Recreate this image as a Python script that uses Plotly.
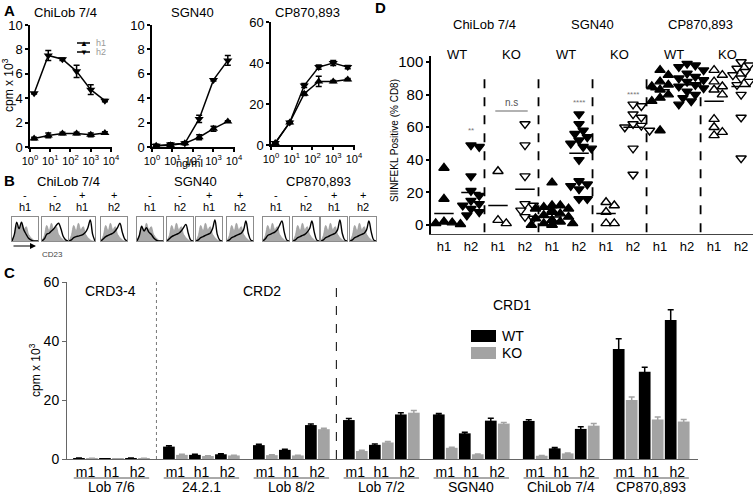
import plotly.graph_objects as go

W, H = 755, 495
def PX(x): return x / W
def PY(y): return 1 - y / H

FONT = "Liberation Sans, Arial, sans-serif"

# ---------------- Panel A data ----------------
conc = [1.6, 8, 40, 200, 1000, 5000]
a_titles = ["ChiLob 7/4", "SGN40", "CP870,893"]
chilob_h1 = [0.7, 0.95, 1.1, 1.1, 1.0, 1.15]
chilob_h1_err = [0.1, 0.2, 0.1, 0.1, 0.15, 0.1]
chilob_h2 = [4.4, 7.5, 7.2, 6.2, 4.7, 3.8]
chilob_h2_err = [0.05, 0.4, 0.1, 0.5, 0.4, 0.1]
sgn40_h1 = [0.1, 0.15, 0.3, 0.8, 1.5, 2.1]
sgn40_h1_err = [0.1, 0.1, 0.1, 0.2, 0.2, 0.05]
sgn40_h2 = [0.1, 0.2, 0.3, 2.3, 5.5, 7.1]
sgn40_h2_err = [0.1, 0.15, 0.1, 0.3, 0.1, 0.4]
cp_h1 = [1.0, 11, 25, 31, 31, 32]
cp_h1_err = [0.5, 0.5, 0.8, 2.5, 0.5, 0.5]
cp_h2 = [1.0, 11, 29, 38, 40, 38]
cp_h2_err = [0.5, 0.5, 1.0, 1.0, 1.2, 0.8]
a_xticks = [1, 10, 100, 1000, 10000]
a_xticktext = ["10<sup>0</sup>", "10<sup>1</sup>", "10<sup>2</sup>", "10<sup>3</sup>", "10<sup>4</sup>"]
a_legend = ["h1", "h2"]

# ---------------- Panel B data (flow histograms) ----------------
b_bins = list(range(12))
b_signs = ["-", "-", "+", "+"]
b_isos = ["h1", "h2", "h1", "h2"]
iso_control = [0, 0.25, 0.7, 0.45, 0.8, 0.5, 0.65, 0.3, 0.15, 0.05, 0, 0]
chilob_cd23 = [
    [0, 0.3, 0.85, 0.55, 0.85, 0.5, 0.3, 0.12, 0.05, 0, 0, 0],
    [0, 0.1, 0.3, 0.35, 0.45, 0.55, 0.7, 0.8, 0.55, 0.2, 0.05, 0],
    [0, 0.05, 0.15, 0.2, 0.22, 0.25, 0.3, 0.4, 0.6, 0.95, 0.3, 0],
    [0, 0.1, 0.2, 0.25, 0.3, 0.35, 0.45, 0.6, 0.8, 0.4, 0.1, 0],
]
sgn40_cd23 = [
    [0, 0.25, 0.65, 0.45, 0.6, 0.4, 0.3, 0.15, 0.05, 0, 0, 0],
    [0, 0.1, 0.2, 0.25, 0.3, 0.35, 0.45, 0.6, 0.75, 0.35, 0.05, 0],
    [0, 0.05, 0.15, 0.2, 0.25, 0.3, 0.35, 0.55, 0.95, 0.3, 0.05, 0],
    [0, 0.05, 0.15, 0.2, 0.25, 0.3, 0.35, 0.5, 0.9, 0.35, 0.05, 0],
]
cp_cd23 = [
    [0, 0.1, 0.25, 0.3, 0.35, 0.4, 0.5, 0.7, 0.9, 0.4, 0.05, 0],
    [0, 0.05, 0.15, 0.2, 0.25, 0.3, 0.4, 0.55, 0.9, 0.4, 0.05, 0],
    [0, 0.05, 0.15, 0.2, 0.25, 0.3, 0.35, 0.5, 0.95, 0.35, 0.05, 0],
    [0, 0.05, 0.15, 0.2, 0.25, 0.3, 0.35, 0.5, 0.9, 0.4, 0.05, 0],
]

# ---------------- Panel C data ----------------
c_groups = ["Lob 7/6", "24.2.1", "Lob 8/2", "Lob 7/2", "SGN40", "ChiLob 7/4", "CP870,893"]
c_isotypes = ["m1", "h1", "h2"]
c_wt = [0.3, 0.05, 0.3, 4.2, 1.4, 1.6, 4.7, 3.1, 11.5, 13.2, 4.8, 15.1,
        15.1, 8.7, 13.0, 12.9, 3.6, 10.2, 37.3, 29.6, 47.1]
c_wt_err = [0.05, 0.0, 0.05, 0.3, 0.2, 0.2, 0.3, 0.2, 0.4, 0.5, 0.3, 0.6,
            0.3, 0.4, 0.8, 0.4, 0.3, 0.7, 3.5, 1.5, 3.5]
c_ko = [0.2, 0.05, 0.2, 1.4, 1.0, 1.2, 1.3, 1.2, 10.1, 2.7, 5.6, 15.7,
        3.8, 1.6, 12.0, 1.1, 1.9, 11.3, 20.0, 13.4, 12.7]
c_ko_err = [0.05, 0.0, 0.05, 0.2, 0.1, 0.1, 0.1, 0.1, 0.3, 0.3, 0.3, 0.7,
            0.2, 0.1, 0.4, 0.1, 0.1, 0.7, 1.0, 0.8, 0.7]
c_domains = ["CRD3-4", "CRD2", "CRD1"]
c_legend = ["WT", "KO"]

# ---------------- Panel D data ----------------
d_antibodies = ["ChiLob 7/4", "SGN40", "CP870,893"]
d_hosts = ["WT", "KO"]
d_cols = ["h1", "h2"] * 6
d_chilob_wt_h1 = [35, 16, 1, 0.5, 1.5, 2]
d_chilob_wt_h2 = [48, 49, 30, 21, 18, 15, 13, 12, 10, 8, 6]
d_chilob_ko_h1 = [33, 1, 3]
d_chilob_ko_h2 = [62, 49, 30, 13, 12, 9, 4, 5]
d_sgn40_wt_h1 = [26, 12, 11, 10, 9, 8, 7, 6, 5, 4, 3, 3, 2, 1, 1, 0, 0, 0, 12, 10]
d_sgn40_wt_h2 = [68, 62, 58, 56, 54, 52, 50, 48, 47, 40, 27, 25, 24, 22, 16, 16]
d_sgn40_ko_h1 = [12, 14, 8, 1, 1]
d_sgn40_ko_h2 = [74, 73, 68, 66, 62, 61, 60, 58, 47, 31]
d_cp_wt_h1 = [95, 92, 88, 86, 85, 83, 80, 78, 76, 58]
d_cp_wt_h2 = [99, 98, 97, 95, 93, 91, 90, 89, 88, 86, 85, 84, 82, 80, 78, 76, 74]
d_cp_ko_h1 = [95, 92, 88, 85, 83, 80, 65, 60, 57, 55]
d_cp_ko_h2 = [100, 98, 96, 94, 92, 90, 88, 86, 80, 66, 41]
d_means = [7, 20, 12, 22, 5, 44, 7, 60, 83, 86, 76, 85]
d_sig_cols = [1, 5, 7]
d_sig_text = ["**", "****", "****"]
d_sig_y = [58, 75, 80]

fig = go.Figure()
layout = {}
annotations = []
shapes = []

def ax_names(n):
    return ("xaxis" if n == 1 else f"xaxis{n}", "yaxis" if n == 1 else f"yaxis{n}",
            "x" if n == 1 else f"x{n}", "y" if n == 1 else f"y{n}")

def add_axes(n, xpx, ypx, xopt, yopt):
    xa, ya, xr, yr = ax_names(n)
    layout[xa] = dict(domain=[PX(xpx[0]), PX(xpx[1])], anchor=yr, **xopt)
    layout[ya] = dict(domain=[PY(ypx[1]), PY(ypx[0])], anchor=xr, **yopt)
    return xr, yr

def ann(x, y, text, size=13, color="black", bold=False, angle=0, xanchor="center", yanchor="middle"):
    if bold:
        text = f"<b>{text}</b>"
    annotations.append(dict(x=PX(x), y=PY(y), xref="paper", yref="paper", text=text,
                            showarrow=False, font=dict(size=size, color=color, family=FONT),
                            textangle=angle, xanchor=xanchor, yanchor=yanchor))

axis_line = dict(showline=True, linecolor="black", linewidth=1.5, ticks="outside",
                 ticklen=3, tickwidth=1.5, tickcolor="black", showgrid=False, zeroline=False,
                 tickfont=dict(size=11, family=FONT, color="black"))

# ---------------- Panel A ----------------
a_series = [(chilob_h1, chilob_h1_err, chilob_h2, chilob_h2_err, [0, 10], [0, 2, 4, 6, 8, 10]),
            (sgn40_h1, sgn40_h1_err, sgn40_h2, sgn40_h2_err, [0, 10], [0, 2, 4, 6, 8, 10]),
            (cp_h1, cp_h1_err, cp_h2, cp_h2_err, [0, 60], [0, 20, 40, 60])]
a_xpx = [(30, 112), (152, 235), (271, 355)]
a_ypx = [(25, 147), (25, 147), (22, 145)]
a_title_x = [65, 192, 307]
for i, (h1, h1e, h2, h2e, yr_, yt) in enumerate(a_series):
    n = i + 1
    xo = dict(axis_line, type="log", range=[0, 4.05], tickvals=a_xticks, ticktext=a_xticktext)
    yo = dict(axis_line, range=yr_, tickvals=yt, tickfont=dict(size=13, family=FONT, color="black"))
    xr, yr = add_axes(n, a_xpx[i], a_ypx[i], xo, yo)
    for vals, errs, sym in [(h1, h1e, "triangle-up"), (h2, h2e, "triangle-down")]:
        fig.add_trace(go.Scatter(
            x=conc, y=vals, mode="lines+markers", xaxis=xr, yaxis=yr, showlegend=False,
            line=dict(color="black", width=1.5), marker=dict(symbol=sym, size=8, color="black"),
            error_y=dict(type="data", array=errs, color="black", thickness=1.5, width=3)))
    ann(a_title_x[i], 13, a_titles[i], size=13)
# small legend inside the first panel
for k, (lab, glyph) in enumerate(zip(a_legend, ["\u25B2", "\u25BC"])):
    yk = 43 + 9 * k
    shapes.append(dict(type="line", xref="paper", yref="paper", x0=PX(77), x1=PX(90),
                       y0=PY(yk), y1=PY(yk), line=dict(color="black", width=1.5)))
    ann(83.5, yk, glyph, size=8)
    ann(94, yk, lab, size=9, color="#999", xanchor="left")
ann(9, 10, "A", size=15, bold=True)
ann(8, 85, "cpm x 10<sup>3</sup>", size=12, angle=-90)
ann(189, 163, "ng/ml", size=11)

# ---------------- Panel B ----------------
ann(9, 180, "B", size=15, bold=True)
b_titles = ["ChiLob 7/4", "SGN40", "CP870,893"]
b_title_x = [68, 195, 318]
b_box_left = [[12, 42, 69, 101], [137, 167, 196, 227], [263, 293, 321, 350]]
b_sets = [chilob_cd23, sgn40_cd23, cp_cd23]
n = 4
for gi in range(3):
    ann(b_title_x[gi], 182, b_titles[gi], size=13)
    for bi in range(4):
        left = b_box_left[gi][bi]
        box_opt = dict(showline=True, mirror=True, linecolor="#8c8c8c", linewidth=1,
                       showticklabels=False, ticks="", showgrid=False, zeroline=False)
        xr, yr = add_axes(n, (left, left + 26), (217, 241),
                          dict(box_opt, range=[0, 11]), dict(box_opt, range=[0, 1.08]))
        fig.add_trace(go.Scatter(x=b_bins, y=iso_control, mode="lines", fill="tozeroy",
                                 fillcolor="#a9a9a9", line=dict(color="#9a9a9a", width=0.8, shape="spline"),
                                 xaxis=xr, yaxis=yr, showlegend=False, hoverinfo="skip"))
        fig.add_trace(go.Scatter(x=b_bins, y=b_sets[gi][bi], mode="lines",
                                 line=dict(color="black", width=1.4, shape="spline"),
                                 xaxis=xr, yaxis=yr, showlegend=False))
        ann(left + 13, 195, b_signs[bi], size=11)
        ann(left + 13, 207, b_isos[bi], size=11)
        n += 1
annotations.append(dict(x=PX(36), y=PY(246), ax=-24, ay=0, xref="paper", yref="paper",
                        axref="pixel", ayref="pixel", showarrow=True, arrowhead=2, arrowsize=1,
                        arrowwidth=1.2, arrowcolor="black", text=""))
ann(52, 254, "CD23", size=8, color="#444")

# ---------------- Panel C ----------------
ann(9, 272, "C", size=15, bold=True)
GP = 3.46
c_x = []
for g in range(len(c_groups)):
    for c in range(3):
        c_x.append(g * GP + c)
c_ticktext = c_isotypes * len(c_groups)
xo = dict(showline=True, linecolor="#666", linewidth=1, ticks="", showgrid=False, zeroline=False,
          range=[-0.71, 23.56], tickvals=c_x, ticktext=c_ticktext,
          tickfont=dict(size=14, family=FONT, color="black"))
yo = dict(showline=True, linecolor="#666", linewidth=1, ticks="outside", ticklen=4, tickcolor="#666",
          showgrid=False, zeroline=False, range=[0, 60], tickvals=[0, 20, 40, 60],
          tickfont=dict(size=14, family=FONT, color="black"))
cx, cy = add_axes(n, (67, 698), (282, 459), xo, yo)
c_colors = ["black", "#a3a3a3"]
for vals, errs, col, name in [(c_wt, c_wt_err, c_colors[0], c_legend[0]),
                              (c_ko, c_ko_err, c_colors[1], c_legend[1])]:
    fig.add_trace(go.Bar(x=c_x, y=vals, name=name, marker=dict(color=col, line=dict(width=0)),
                         error_y=dict(type="data", array=errs, color=col, thickness=1.5, width=3),
                         xaxis=cx, yaxis=cy, showlegend=False))
for k in range(2):
    y0 = 330 + 17 * k
    shapes.append(dict(type="rect", xref="paper", yref="paper", x0=PX(471), x1=PX(496),
                       y0=PY(y0 + 12), y1=PY(y0), fillcolor=c_colors[k], line=dict(width=0)))
    ann(500, y0 + 6, c_legend[k], size=14, xanchor="left")
for g, name in enumerate(c_groups):
    x0, x1 = g * GP - 0.45, g * GP + 2.45
    shapes.append(dict(type="line", xref=cx, yref="paper", x0=x0, x1=x1, y0=PY(478), y1=PY(478),
                       line=dict(color="#555", width=1)))
    annotations.append(dict(x=g * GP + 1, y=PY(487), xref=cx, yref="paper", text=name, showarrow=False,
                            font=dict(size=14, family=FONT, color="black"), yanchor="middle"))
for xv, col, dash in [((2 + GP) / 2, "#777", "dot"), ((2 + 2 * GP + 3 * GP) / 2, "black", "dash")]:
    shapes.append(dict(type="line", xref=cx, yref=cy, x0=xv, x1=xv, y0=0, y1=60,
                       line=dict(color=col, width=1, dash=dash)))
ann(110, 291, c_domains[0], size=14)
ann(262, 291, c_domains[1], size=14)
ann(512, 305, c_domains[2], size=14)
ann(35, 370, "cpm x 10<sup>3</sup>", size=12, angle=-90)
n += 1

# ---------------- Panel D ----------------
ann(380, 8, "D", size=15, bold=True)
XU, YU = 27.0, 1.63  # px per x-unit / y-unit (used for swarm spacing)
def swarm(vals, xc, d=7.5):
    placed = []
    xs, ys = [], []
    for v in sorted(vals, reverse=True):
        py = v * YU
        best = 0.0
        for k in [0, 1, -1, 2, -2, 3, -3, 4, -4, 5, -5]:
            ox = k * d * 0.55
            if all((ox - a) ** 2 + (py - b) ** 2 >= d * d * 0.8 for a, b in placed):
                best = ox
                break
        placed.append((best, py))
        xs.append(xc + best / XU)
        ys.append(v)
    return xs, ys

d_sets = [d_chilob_wt_h1, d_chilob_wt_h2, d_chilob_ko_h1, d_chilob_ko_h2,
          d_sgn40_wt_h1, d_sgn40_wt_h2, d_sgn40_ko_h1, d_sgn40_ko_h2,
          d_cp_wt_h1, d_cp_wt_h2, d_cp_ko_h1, d_cp_ko_h2]
d_x = list(range(12))
xo = dict(showline=True, linecolor="#444", linewidth=1.2, ticks="", showgrid=False, zeroline=False,
          range=[-0.48, 11.44], tickvals=d_x, ticktext=d_cols,
          tickfont=dict(size=13, family=FONT, color="black"))
yo = dict(axis_line, range=[-5.5, 104], tickvals=[0, 20, 40, 60, 80, 100],
          tickfont=dict(size=15, family=FONT, color="black"))
dx, dy = add_axes(n, (431, 753), (55.5, 234), xo, yo)
for i, vals in enumerate(d_sets):
    is_ko = (i // 2) % 2 == 1
    up = i % 2 == 0
    sym = ("triangle-up" if up else "triangle-down") + ("-open" if is_ko else "")
    xs, ys = swarm(vals, d_x[i])
    fig.add_trace(go.Scatter(x=xs, y=ys, mode="markers", xaxis=dx, yaxis=dy, showlegend=False,
                             marker=dict(symbol=sym, size=9, color="black",
                                         line=dict(color="black", width=1.4))))
mx, my = [], []
for i, m in enumerate(d_means):
    mx += [d_x[i] - 0.36, d_x[i] + 0.36, None]
    my += [m, m, None]
fig.add_trace(go.Scatter(x=mx, y=my, mode="lines", line=dict(color="black", width=1.5),
                         xaxis=dx, yaxis=dy, showlegend=False))
fig.add_trace(go.Scatter(x=[1.9, 3.1], y=[70, 70], mode="lines", line=dict(color="#999", width=1.5),
                         xaxis=dx, yaxis=dy, showlegend=False))
annotations.append(dict(x=2.5, y=75, xref=dx, yref=dy, text="n.s", showarrow=False,
                        font=dict(size=10, family=FONT, color="#555")))
for c, t, yv in zip(d_sig_cols, d_sig_text, d_sig_y):
    annotations.append(dict(x=d_x[c], y=yv, xref=dx, yref=dy, text=t, showarrow=False,
                            font=dict(size=8, family=FONT, color="#777")))
for k in range(5):
    xv = 2 * k + 1.5
    shapes.append(dict(type="line", xref=dx, yref=dy, x0=xv, x1=xv, y0=-4.5, y1=95,
                       line=dict(color="black", width=1.8, dash="dash")))
for g in range(6):
    annotations.append(dict(x=2 * g + 0.5, y=PY(45), xref=dx, yref="paper", text=d_hosts[g % 2],
                            showarrow=False, font=dict(size=13, family=FONT, color="black")))
for a in range(3):
    annotations.append(dict(x=4 * a + 1.5, y=PY(15), xref=dx, yref="paper", text=d_antibodies[a],
                            showarrow=False, font=dict(size=13, family=FONT, color="black")))
ann(394, 140, "SIINFEKL Positive (% CD8)", size=10, angle=-90)

fig.update_layout(
    width=W, height=H, margin=dict(l=0, r=0, t=0, b=0, autoexpand=False),
    paper_bgcolor="white", plot_bgcolor="white",
    font=dict(family=FONT, color="black"),
    barmode="group", bargap=0.0, bargroupgap=0.1, showlegend=False,
    annotations=annotations, shapes=shapes,
    **layout,
)
fig.write_html("out.html", config={"displayModeBar": False},
               post_script="document.body.style.margin='0px';document.body.style.overflow='hidden';")
